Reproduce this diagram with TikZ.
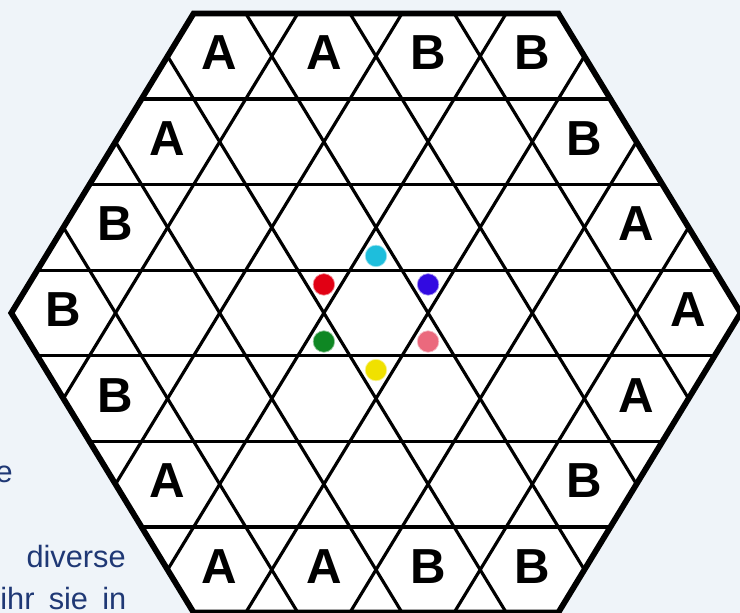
\documentclass[tikz,border=0pt]{standalone}
\usepackage{fontspec}
\setmainfont{Liberation Sans}
\definecolor{bg}{RGB}{239,244,249}
\definecolor{navy}{RGB}{31,56,117}
\definecolor{dcyan}{RGB}{30,190,220}
\definecolor{dred}{RGB}{225,0,20}
\definecolor{dblue}{RGB}{50,10,225}
\definecolor{dgreen}{RGB}{15,135,35}
\definecolor{dpink}{RGB}{235,105,125}
\definecolor{dyellow}{RGB}{240,225,0}
\begin{document}
\begin{tikzpicture}[x=1.042cm, y=0.9884cm,
  gridline/.style={line width=1.8pt, black},
  border/.style={line width=3.3pt, black, line join=miter},
  lab/.style={font=\bfseries\fontsize{28}{28}\selectfont, inner sep=0pt, yshift=0.07cm},
  txt/.style={font=\fontsize{17.5}{20}\selectfont, text=navy, inner sep=0pt},
  ball/.style={circle, minimum size=0.43cm, inner sep=0pt, fill=#1, draw=#1!45!white, line width=0.4pt}]

\useasboundingbox[fill=bg] (-7.217,-6.0704) rectangle (6.987,6.3334);

% outer hexagon
\coordinate (h1) at (7,0);
\coordinate (h2) at (3.5,6.0621778);
\coordinate (h3) at (-3.5,6.0621778);
\coordinate (h4) at (-7,0);
\coordinate (h5) at (-3.5,-6.0621778);
\coordinate (h6) at (3.5,-6.0621778);

\fill[white] (h1) -- (h2) -- (h3) -- (h4) -- (h5) -- (h6) -- cycle;

\begin{scope}
  \clip (h1) -- (h2) -- (h3) -- (h4) -- (h5) -- (h6) -- cycle;
  \foreach \c in {-5,-3,-1,1,3,5} {
    \draw[gridline] (-8,{\c*0.8660254}) -- (8,{\c*0.8660254});
    \draw[gridline] ({\c-7/1.7320508},-7) -- ({\c+7/1.7320508},7);
    \draw[gridline] ({\c+7/1.7320508},-7) -- ({\c-7/1.7320508},7);
  }
\end{scope}

\draw[border] (h1) -- (h2) -- (h3) -- (h4) -- (h5) -- (h6) -- cycle;

% labels
\node[lab] (a1) at (-3,5.1961524) {A};
\node[lab] (a2) at (-1,5.1961524) {A};
\node[lab] (a3) at (1,5.1961524) {B};
\node[lab] (a4) at (3,5.1961524) {B};
\node[lab] (b1) at (-4,3.4641016) {A};
\node[lab] (b2) at (4,3.4641016) {B};
\node[lab] (c1) at (-5,1.7320508) {B};
\node[lab] (c2) at (5,1.7320508) {A};
\node[lab] (e1) at (-6,0) {B};
\node[lab] (e2) at (6,0) {A};
\node[lab] (f1) at (-5,-1.7320508) {B};
\node[lab] (f2) at (5,-1.7320508) {A};
\node[lab] (g1) at (-4,-3.4641016) {A};
\node[lab] (g2) at (4,-3.4641016) {B};
\node[lab] (k1) at (-3,-5.1961524) {A};
\node[lab] (k2) at (-1,-5.1961524) {A};
\node[lab] (k3) at (1,-5.1961524) {B};
\node[lab] (k4) at (3,-5.1961524) {B};

% coloured balls
\node[ball=dcyan] (p1) at (0,1.1547005) {};
\node[ball=dblue] (p2) at (1,0.5773503) {};
\node[ball=dpink] (p3) at (1,-0.5773503) {};
\node[ball=dyellow] (p4) at (0,-1.1547005) {};
\node[ball=dgreen] (p5) at (-1,-0.5773503) {};
\node[ball=dred] (p6) at (-1,0.5773503) {};

% partial text at left
\node[txt, anchor=base east] (t1) at (-6.967,-3.440) {e};
\node[txt, anchor=base east] (t2) at (-4.798,-5.160) {diverse};
\node[txt, anchor=base west] (t3) at (-7.217,-6.010) {\makebox[2.52cm][s]{ihr sie in}};
\end{tikzpicture}
\end{document}
